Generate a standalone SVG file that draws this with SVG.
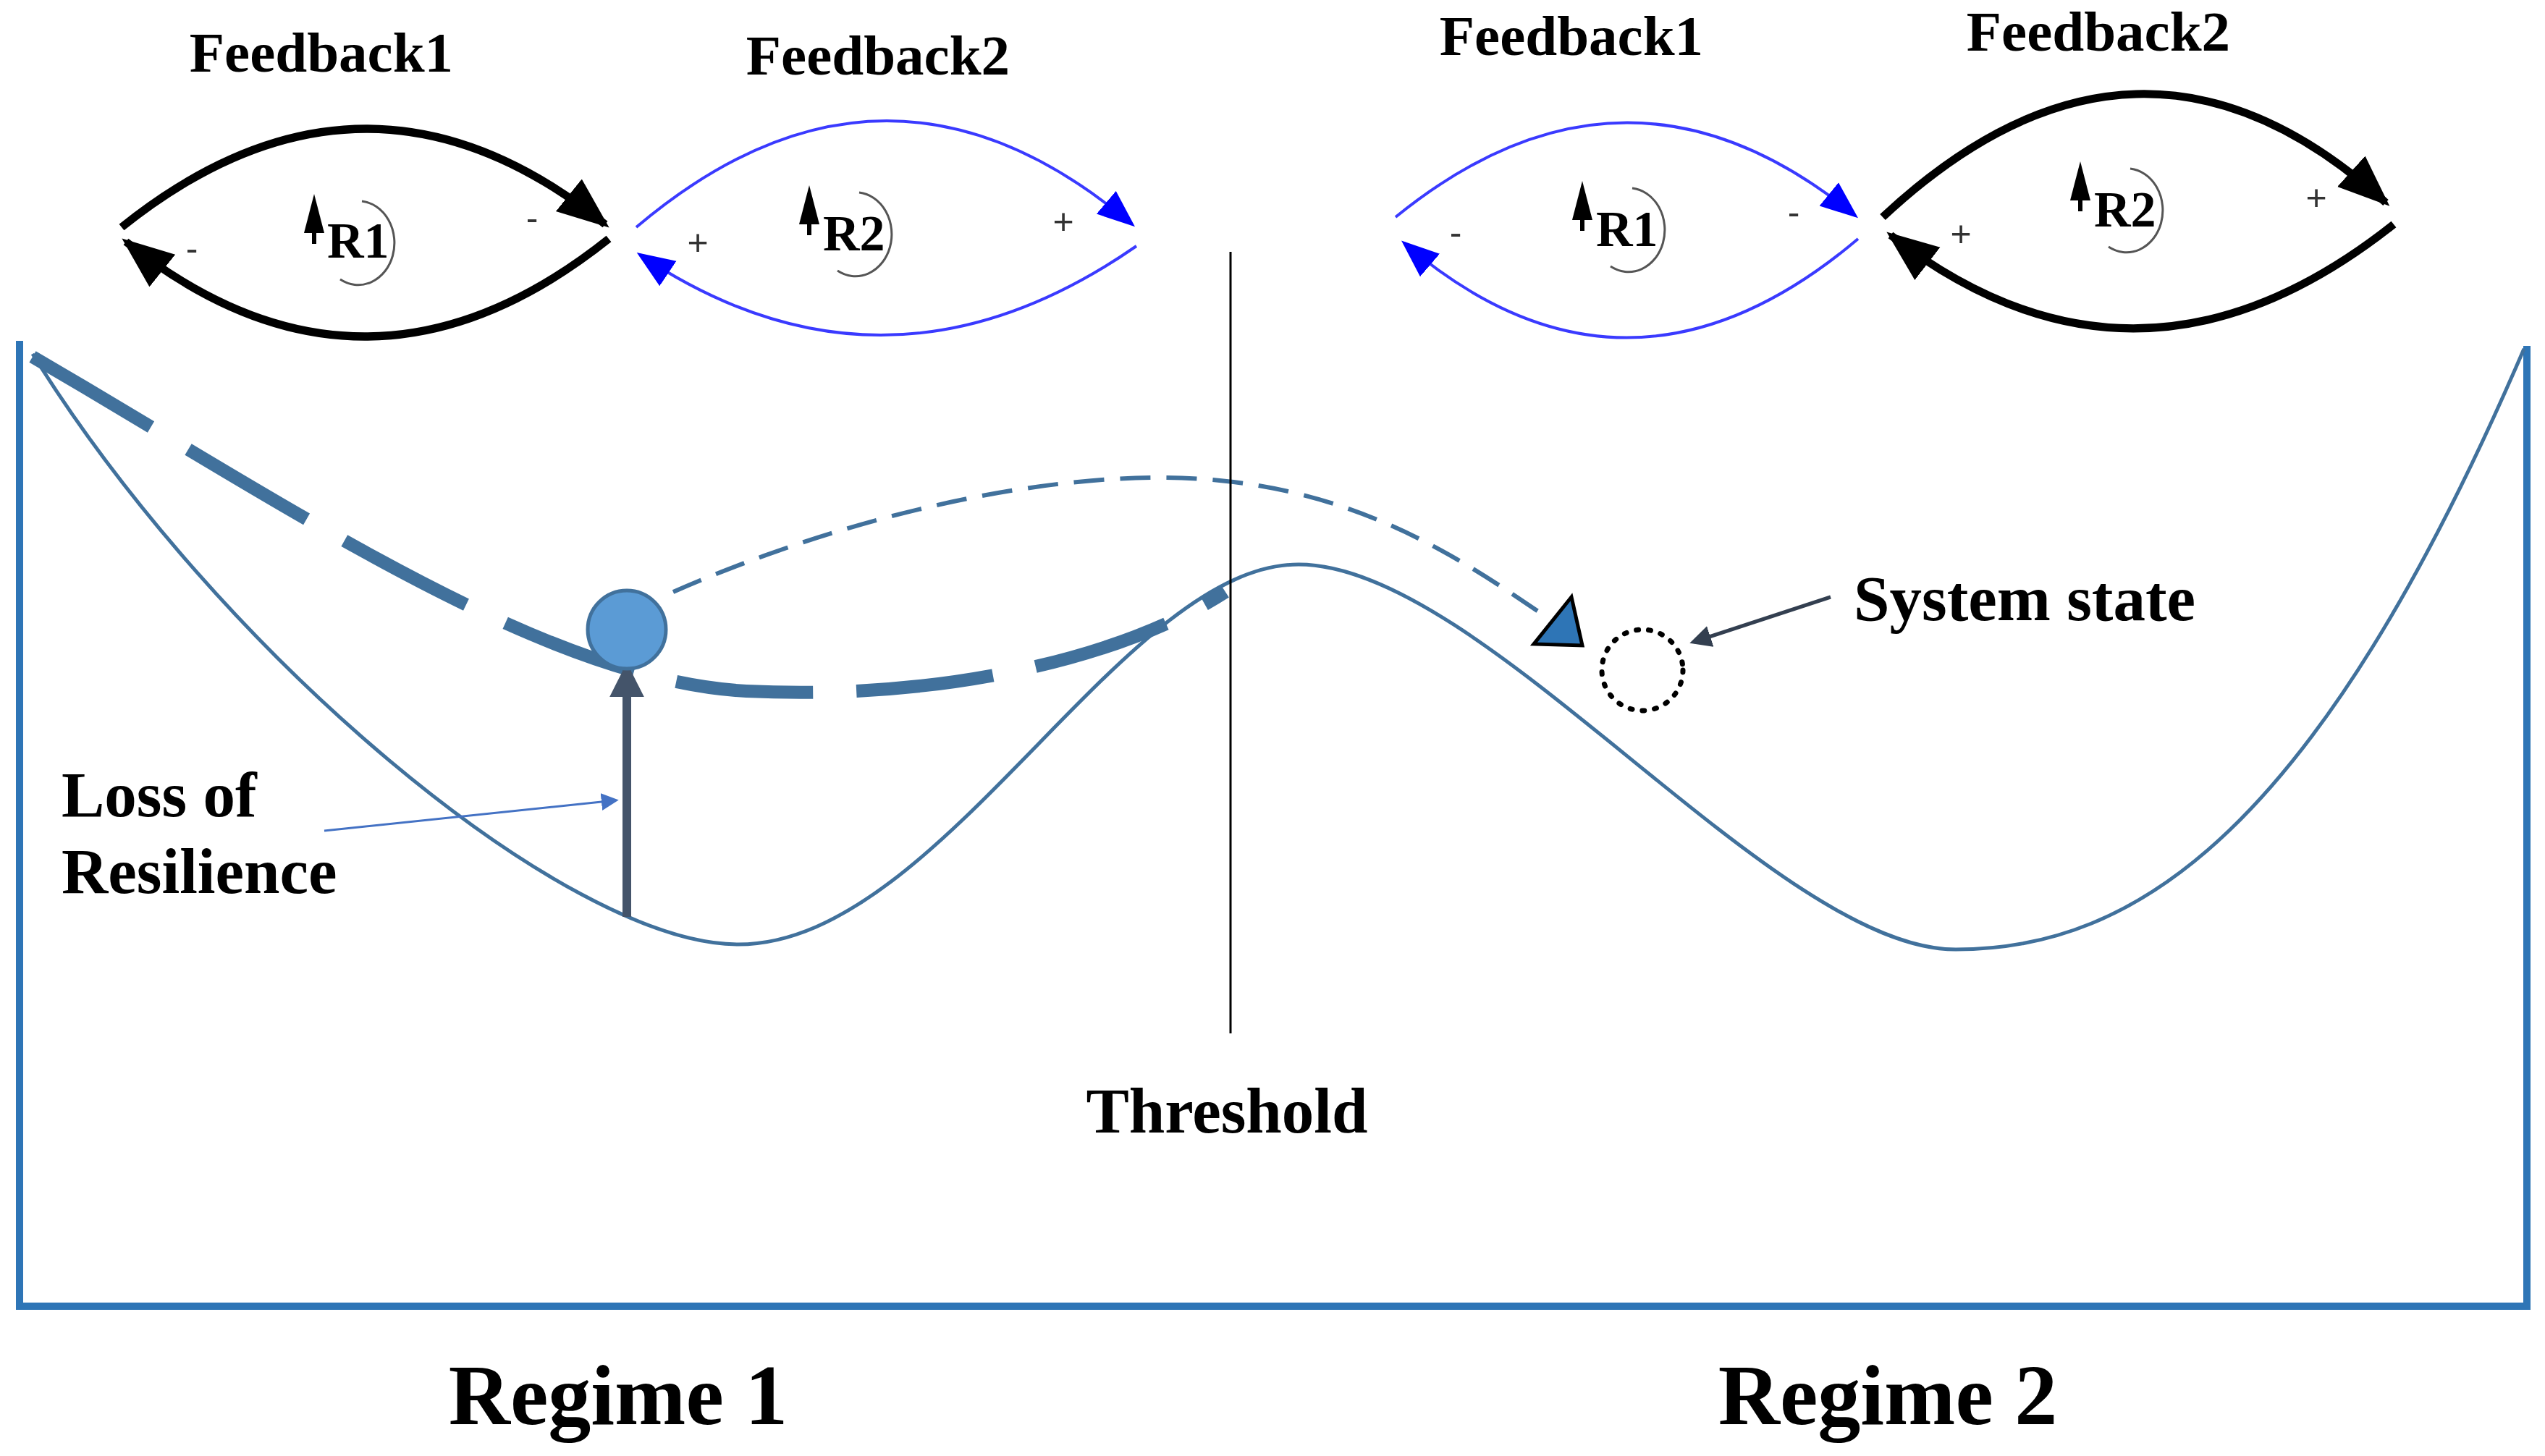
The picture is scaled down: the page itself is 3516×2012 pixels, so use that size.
<svg xmlns="http://www.w3.org/2000/svg" width="3516" height="2012" viewBox="0 0 3516 2012">
<defs>
<style>
.t{font-family:"Liberation Serif",serif;font-weight:bold;fill:#000}
.fb{font-size:79px;text-anchor:middle}
.big{font-size:89px}
.rg{font-size:118px;text-anchor:middle}
.r{font-size:70px;font-family:"Liberation Serif",serif;fill:#000;font-weight:bold}
.sg{font-size:50px;font-family:"Liberation Sans",sans-serif;fill:#333;text-anchor:middle}
.bk{fill:none;stroke:#000;stroke-width:11}
.bl{fill:none;stroke:#3a3aff;stroke-width:4}
.rc{fill:none;stroke:#555;stroke-width:3}
</style>
<marker id="hb" viewBox="0 0 10 10" refX="9" refY="5" markerWidth="6.5" markerHeight="6.5" orient="auto" markerUnits="strokeWidth"><path d="M0,1 L10,5 L0,9z" fill="#000"/></marker>
<marker id="hu" viewBox="0 0 10 10" refX="9" refY="5" markerWidth="13" markerHeight="13" orient="auto" markerUnits="strokeWidth"><path d="M0,1 L10,5 L0,9z" fill="#0000ff"/></marker>
<marker id="hg" viewBox="0 0 10 10" refX="8" refY="5" markerWidth="4" markerHeight="4" orient="auto" markerUnits="strokeWidth"><path d="M0,0 L10,5 L0,10z" fill="#44546a"/></marker>
<marker id="hs" viewBox="0 0 10 10" refX="8" refY="5" markerWidth="6" markerHeight="6" orient="auto" markerUnits="strokeWidth"><path d="M0,0 L10,5 L0,10z" fill="#333f50"/></marker>
<marker id="hl" viewBox="0 0 10 10" refX="8" refY="5" markerWidth="8" markerHeight="8" orient="auto" markerUnits="strokeWidth"><path d="M0,0 L10,5 L0,10z" fill="#4472c4"/></marker>
</defs>
<rect width="3516" height="2012" fill="#fff"/>
<g id="frame"><path d="M27,471 L27,1805 L3491,1805 L3491,478" fill="none" stroke="#2e75b6" stroke-width="10"/></g>
<g id="landscape"><path d="M45,489 C 300,900 780,1305 1020,1305 C 1300,1305 1550,780 1794,780 C 2050,780 2450,1312 2702,1312 C 2950,1312 3200,1150 3487,482" fill="none" stroke="#41719c" stroke-width="5"/></g>
<g id="connectors">
<path d="M45,493 C 400,700 750,940 1031,955 C 1300,968 1550,910 1693,818" fill="none" stroke="#41719c" stroke-width="18" stroke-dasharray="190,60"/>
<path d="M930,818 C 1200,700 1500,640 1704,666 C 1900,690 2030,780 2140,855" fill="none" stroke="#41719c" stroke-width="6" stroke-dasharray="42,22"/>
<polygon points="2171,825 2119,890 2186,892" fill="#2e75b6" stroke="#000" stroke-width="5"/>
<line x1="866" y1="1267" x2="866" y2="925" stroke="#44546a" stroke-width="12" marker-end="url(#hg)"/>
<line x1="448" y1="1148" x2="850" y2="1106" stroke="#4472c4" stroke-width="3" marker-end="url(#hl)"/>
<line x1="2529" y1="825" x2="2340" y2="887" stroke="#333f50" stroke-width="5" marker-end="url(#hs)"/>
<line x1="1700" y1="348" x2="1700" y2="1428" stroke="#000" stroke-width="3"/>
<path class="bk" d="M168,314 Q505,44 836,310" marker-end="url(#hb)"/>
<path class="bk" d="M841,330 Q505,598 174,334" marker-end="url(#hb)"/>
<path class="bl" d="M879,314 Q1224,22 1564,310" marker-end="url(#hu)"/>
<path class="bl" d="M1570,340 Q1224,580 884,352" marker-end="url(#hu)"/>
<path class="bl" d="M1928,300 Q2248,40 2563,298" marker-end="url(#hu)"/>
<path class="bl" d="M2567,330 Q2248,600 1940,336" marker-end="url(#hu)"/>
<path class="bk" d="M2601,300 Q2954,-30 3296,280" marker-end="url(#hb)"/>
<path class="bk" d="M3307,310 Q2954,590 2612,325" marker-end="url(#hb)"/>
</g>
<g id="ball"><circle cx="866" cy="870" r="54" fill="#5b9bd5" stroke="#41719c" stroke-width="5"/></g>
<g id="state"><circle cx="2269" cy="926" r="56" fill="none" stroke="#000" stroke-width="7" stroke-dasharray="3,14" stroke-linecap="round"/></g>
<g id="loop1">
<path class="rc" d="M500,278 A50,58 0 1 1 470,386"/><polygon points="434,268 420,322 448,322" fill="#000"/><rect x="431" y="315" width="6" height="22" fill="#000"/>
<text class="r" x="452" y="356">R1</text>
<text class="sg" x="265" y="360">-</text><text class="sg" x="735" y="318">-</text>
</g>
<g id="loop2">
<path class="rc" d="M1187,266 A50,58 0 1 1 1157,374"/><polygon points="1118,256 1104,310 1132,310" fill="#000"/><rect x="1115" y="303" width="6" height="22" fill="#000"/>
<text class="r" x="1137" y="346">R2</text>
<text class="sg" x="964" y="352">+</text><text class="sg" x="1469" y="323">+</text>
</g>
<g id="loop3">
<path class="rc" d="M2255,260 A50,58 0 1 1 2225,368"/><polygon points="2186,250 2172,304 2200,304" fill="#000"/><rect x="2183" y="297" width="6" height="22" fill="#000"/>
<text class="r" x="2205" y="340">R1</text>
<text class="sg" x="2011" y="338">-</text><text class="sg" x="2478" y="310">-</text>
</g>
<g id="loop4">
<path class="rc" d="M2943,233 A50,58 0 1 1 2913,341"/><polygon points="2874,223 2860,277 2888,277" fill="#000"/><rect x="2871" y="270" width="6" height="22" fill="#000"/>
<text class="r" x="2893" y="313">R2</text>
<text class="sg" x="2709" y="340">+</text><text class="sg" x="3200" y="290">+</text>
</g>
<g id="labels">
<text class="t fb" x="444" y="99">Feedback1</text>
<text class="t fb" x="1213" y="103">Feedback2</text>
<text class="t fb" x="2171" y="76">Feedback1</text>
<text class="t fb" x="2899" y="70">Feedback2</text>
<text class="t big" x="85" y="1128">Loss of</text>
<text class="t big" x="85" y="1234">Resilience</text>
<text class="t big" x="1695" y="1565" text-anchor="middle">Threshold</text>
<text class="t big" x="2561" y="857">System state</text>
<text class="t rg" x="854" y="1968">Regime 1</text>
<text class="t rg" x="2608" y="1968">Regime 2</text>
</g>
</svg>
